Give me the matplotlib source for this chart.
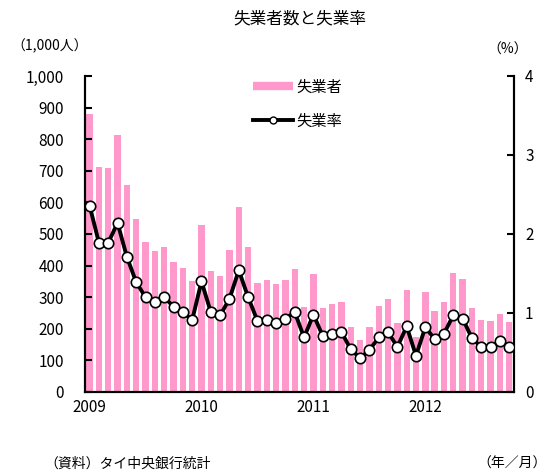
import numpy as np
import matplotlib
matplotlib.use("Agg")
import matplotlib.pyplot as plt
from matplotlib.lines import Line2D

plt.rcParams['font.family'] = ['Noto Sans CJK JP', 'DejaVu Sans']

# 失業者 (1,000人), monthly Jan 2009 - Oct 2012
unemployed = [
    880, 713, 709, 814, 654, 546, 475, 445, 458, 410, 391, 350,
    528, 383, 367, 449, 585, 459, 346, 353, 343, 354, 389, 269,
    373, 267, 277, 285, 205, 165, 207, 271, 295, 219, 323, 173,
    315, 256, 285, 377, 358, 267, 227, 225, 248, 222,
]
# 失業率 (%)
rate = [
    2.36, 1.89, 1.89, 2.14, 1.71, 1.39, 1.20, 1.14, 1.20, 1.08, 1.01, 0.91,
    1.40, 1.01, 0.97, 1.18, 1.54, 1.20, 0.90, 0.91, 0.87, 0.93, 1.01, 0.69,
    0.98, 0.71, 0.73, 0.76, 0.54, 0.43, 0.53, 0.69, 0.76, 0.57, 0.83, 0.46,
    0.82, 0.67, 0.74, 0.97, 0.93, 0.68, 0.57, 0.57, 0.64, 0.57,
]
year_labels = ['2009', '2010', '2011', '2012']

x = np.arange(len(unemployed))
pink = '#FF99CC'

fig = plt.figure(figsize=(5.55, 4.72), dpi=100)
ax = fig.add_axes([0.153, 0.1695, 0.773, 0.6695])
ax2 = ax.twinx()

ax.bar(x, unemployed, width=0.68, color=pink, zorder=1)
ax2.plot(x, rate, color='black', linewidth=2.8, marker='o', markersize=7.5,
         markerfacecolor='white', markeredgecolor='black', markeredgewidth=1.2,
         zorder=3)

ax.set_xlim(-0.5, len(x) - 0.5)
ax.set_ylim(0, 1000)
ax2.set_ylim(0, 4)
ax.set_yticks(np.arange(0, 1001, 100))
ax.set_yticklabels([f'{v:,}' for v in range(0, 1001, 100)])
ax2.set_yticks(range(0, 5))

# one label per January
ax.set_xticks(x[::12])
ax.set_xticklabels(year_labels)
ax.tick_params(axis='x', length=0, pad=5, labelsize=11)
ax.tick_params(axis='y', direction='in', length=5, width=1.5, labelsize=11, pad=15)
ax2.tick_params(axis='y', direction='in', length=5, width=1.5, labelsize=11, pad=8)
for a in (ax, ax2):
    for s in a.spines.values():
        s.set_linewidth(1.5)
    a.spines['top'].set_visible(False)

# legend
handles = [Line2D([], [], color=pink, linewidth=6, solid_capstyle='butt'),
           Line2D([], [], color='black', linewidth=2.8, marker='o', markersize=5,
                  markerfacecolor='white', markeredgecolor='black')]
ax.legend(handles, ['失業者', '失業率'], loc='upper left',
          bbox_to_anchor=(0.36, 1.035), frameon=False, fontsize=11,
          handlelength=2.6, handletextpad=0.2, labelspacing=1.1)

fig.text(0.54, 0.96, '失業者数と失業率', ha='center', va='center', fontsize=12)
fig.text(0.02, 0.902, '（1,000人）', ha='left', va='center', fontsize=10)
fig.text(0.915, 0.895, '（%）', ha='center', va='center', fontsize=10)
fig.text(0.08, 0.017, '（資料）タイ中央銀行統計', ha='left', va='center', fontsize=10)
fig.text(0.985, 0.017, '（年／月）', ha='right', va='center', fontsize=10)

fig.savefig('out.png', dpi=100)
